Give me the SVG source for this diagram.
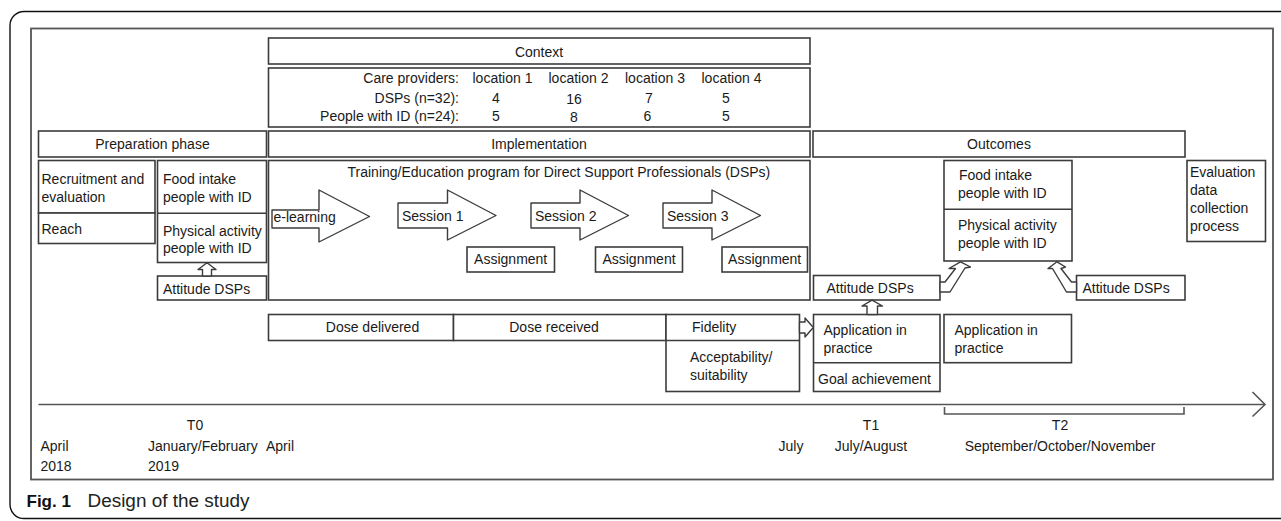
<svg xmlns="http://www.w3.org/2000/svg" width="1281" height="521" viewBox="0 0 1281 521">
<style>
.b{fill:#fff;stroke:#3c3c3c;stroke-width:1.6}
.t{font-family:"Liberation Sans",Arial,sans-serif;font-size:14px;fill:#1a1a1a}
.m{text-anchor:middle}
.e{text-anchor:end}
.ha{fill:#fff;stroke:#3c3c3c;stroke-width:1.4;stroke-linejoin:round}
.ax{fill:none;stroke:#555;stroke-width:1.6}
</style>
<rect width="1281" height="521" fill="#fff"/>
<rect x="10" y="11.5" width="1290" height="507" rx="14" fill="none" stroke="#111" stroke-width="1.4"/>
<rect x="31" y="28.5" width="1242" height="451" fill="none" stroke="#555" stroke-width="1.8"/>

<g id="context"><rect class="b" x="268.5" y="38" width="541.5" height="26"/><text class="t m" x="539" y="56.5">Context</text></g>
<g id="table">
<rect class="b" x="268.5" y="68" width="541.5" height="59"/>
<text class="t e" x="459" y="83">Care providers:</text>
<text class="t e" x="459" y="103">DSPs (n=32):</text>
<text class="t e" x="459" y="120.5">People with ID (n=24):</text>
<text class="t" x="472.5" y="83">location 1</text>
<text class="t" x="548.5" y="83">location 2</text>
<text class="t" x="625" y="83">location 3</text>
<text class="t" x="701.5" y="83">location 4</text>
<text class="t m" x="496" y="103">4</text><text class="t m" x="574" y="104">16</text><text class="t m" x="649" y="103">7</text><text class="t m" x="726" y="103">5</text>
<text class="t m" x="496" y="120.5">5</text><text class="t m" x="574" y="121.5">8</text><text class="t m" x="647.5" y="120.5">6</text><text class="t m" x="726" y="120.5">5</text>
</g>
<g id="prep-head"><rect class="b" x="38.5" y="131" width="228" height="26"/><text class="t m" x="152.5" y="148.5">Preparation phase</text></g>
<g id="impl-head"><rect class="b" x="268.5" y="131" width="541.5" height="26"/><text class="t m" x="539" y="148.5">Implementation</text></g>
<g id="out-head"><rect class="b" x="813" y="131" width="372" height="26"/><text class="t m" x="999" y="149">Outcomes</text></g>

<g id="recruit">
<rect class="b" x="38.5" y="160.5" width="116.5" height="52.5"/>
<text class="t" x="41.5" y="184">Recruitment and</text><text class="t" x="41.5" y="202">evaluation</text>
</g>
<g id="reach"><rect class="b" x="38.5" y="213" width="116.5" height="30.5"/><text class="t" x="41.5" y="234">Reach</text></g>
<g id="prep-food">
<rect class="b" x="157.5" y="160.5" width="109" height="102"/>
<line x1="157.5" y1="213.3" x2="266.5" y2="213.3" stroke="#3c3c3c" stroke-width="1.6"/>
<text class="t" x="163" y="184">Food intake</text><text class="t" x="163" y="202">people with ID</text>
<text class="t" x="163" y="235.5">Physical activity</text><text class="t" x="163" y="253">people with ID</text>
</g>
<g id="prep-att"><rect class="b" x="157.5" y="276" width="109" height="24"/><text class="t" x="163" y="294">Attitude DSPs</text></g>

<g id="training">
<rect class="b" x="268.5" y="160.5" width="541.5" height="139.5"/>
<text class="t" x="347.5" y="177">Training/Education program for Direct Support Professionals (DSPs)</text>
</g>
<g id="elearning"><polygon class="ha" points="272,210 319,210 319,190 369.5,216.5 319,242 319,228 272,228"/><text class="t" x="273.5" y="221.5">e-learning</text></g>
<g id="session1"><polygon class="ha" points="398,203 447.5,203 447.5,190 496,215.5 447.5,240 447.5,228 398,228"/><text class="t" x="402" y="221">Session 1</text></g>
<g id="session2"><polygon class="ha" points="531,203 580,203 580,190 628.5,215.5 580,240 580,228 531,228"/><text class="t" x="535" y="221">Session 2</text></g>
<g id="session3"><polygon class="ha" points="663,203 712,203 712,190 760.5,215.5 712,240 712,228 663,228"/><text class="t" x="667" y="221">Session 3</text></g>
<g id="assign1"><rect class="b" x="467" y="247" width="87.5" height="25"/><text class="t m" x="510.7" y="264">Assignment</text></g>
<g id="assign2"><rect class="b" x="595.5" y="247" width="87" height="25"/><text class="t m" x="639" y="264">Assignment</text></g>
<g id="assign3"><rect class="b" x="722" y="247" width="85.5" height="25"/><text class="t m" x="764.7" y="264">Assignment</text></g>

<g id="dose">
<rect class="b" x="268.5" y="314.5" width="185" height="26"/><text class="t m" x="372.5" y="332">Dose delivered</text>
<rect class="b" x="453.5" y="314.5" width="212.5" height="26"/><text class="t m" x="554" y="332">Dose received</text>
</g>
<g id="fidelity">
<rect class="b" x="666" y="314.5" width="133.5" height="77"/>
<line x1="666" y1="340.5" x2="799.5" y2="340.5" stroke="#3c3c3c" stroke-width="1.6"/>
<text class="t" x="692" y="332">Fidelity</text>
<text class="t" x="690" y="362">Acceptability/</text><text class="t" x="690" y="379.5">suitability</text>
</g>
<g id="app1">
<rect class="b" x="813.5" y="314.5" width="126.5" height="77"/>
<line x1="813.5" y1="362.7" x2="940" y2="362.7" stroke="#3c3c3c" stroke-width="1.6"/>
<text class="t" x="823.5" y="334.5">Application in</text><text class="t" x="823.5" y="352.5">practice</text>
<text class="t" x="818" y="383.5">Goal achievement</text>
</g>
<g id="att-mid"><rect class="b" x="813.5" y="275.5" width="126.5" height="24.5"/><text class="t" x="826.5" y="293">Attitude DSPs</text></g>
<g id="att-right"><rect class="b" x="1076.5" y="275.5" width="108.5" height="24.5"/><text class="t" x="1082.5" y="293">Attitude DSPs</text></g>
<g id="out-food">
<rect class="b" x="944" y="160.5" width="128" height="100.5"/>
<line x1="944" y1="209.3" x2="1072" y2="209.3" stroke="#3c3c3c" stroke-width="1.6"/>
<text class="t" x="959" y="180">Food intake</text><text class="t" x="958" y="198">people with ID</text>
<text class="t" x="958" y="230">Physical activity</text><text class="t" x="958" y="248">people with ID</text>
</g>
<g id="app2"><rect class="b" x="944" y="314.5" width="127.5" height="48.2"/><text class="t" x="954.5" y="334.5">Application in</text><text class="t" x="954.5" y="352.5">practice</text></g>
<g id="evaluation">
<rect class="b" x="1187" y="160.5" width="78.5" height="81"/>
<text class="t" x="1190" y="176.5">Evaluation</text><text class="t" x="1190" y="195">data</text>
<text class="t" x="1190" y="213">collection</text><text class="t" x="1190" y="231">process</text>
</g>

<g id="connectors">
<polygon class="ha" points="202.5,276 202.5,269.5 198,269.5 207,262.8 216,269.5 211.5,269.5 211.5,276"/>
<polygon class="ha" points="867,314.5 867,306 862,306 872,300.2 882.5,306 877.5,306 877.5,314.5"/>
<polygon class="ha" points="799.5,322 805,322 805,318 813.3,327.5 805,337 805,333 799.5,333"/>
<polygon class="ha" points="940,282 945,282 955.5,268.5 949,268.5 960.5,261.8 970.5,267 965,268 950,292 940,292"/>
<polygon class="ha" points="1076.5,282 1071.5,282 1061,268.5 1065.5,267 1057,261.8 1048,268.5 1052.5,268.5 1066.5,292 1076.5,292"/>
</g>

<g id="timeline">
<line class="ax" x1="38.5" y1="404.5" x2="1264.5" y2="404.5"/>
<polyline class="ax" points="1252.5,392 1265,404.5 1252.5,416.5"/>
<polyline class="ax" points="944.5,407 944.5,414 1184,414 1184,407"/>
<text class="t m" x="195" y="430">T0</text>
<text class="t" x="40.5" y="450.5">April</text><text class="t" x="40.5" y="471">2018</text>
<text class="t" x="148" y="450.5">January/February</text><text class="t" x="148" y="471">2019</text>
<text class="t" x="266" y="450.5">April</text>
<text class="t m" x="791" y="450.5">July</text>
<text class="t m" x="871" y="430">T1</text><text class="t m" x="871" y="450.5">July/August</text>
<text class="t m" x="1060" y="430">T2</text><text class="t m" x="1060" y="450.5">September/October/November</text>
</g>
<g id="caption">
<text x="26.5" y="507" style="font-family:'Liberation Sans',Arial,sans-serif;font-size:17px;font-weight:bold;fill:#111">Fig. 1</text>
<text x="87.5" y="507" textLength="162" lengthAdjust="spacingAndGlyphs" style="font-family:'Liberation Sans',Arial,sans-serif;font-size:18px;fill:#222">Design of the study</text>
</g>
</svg>
